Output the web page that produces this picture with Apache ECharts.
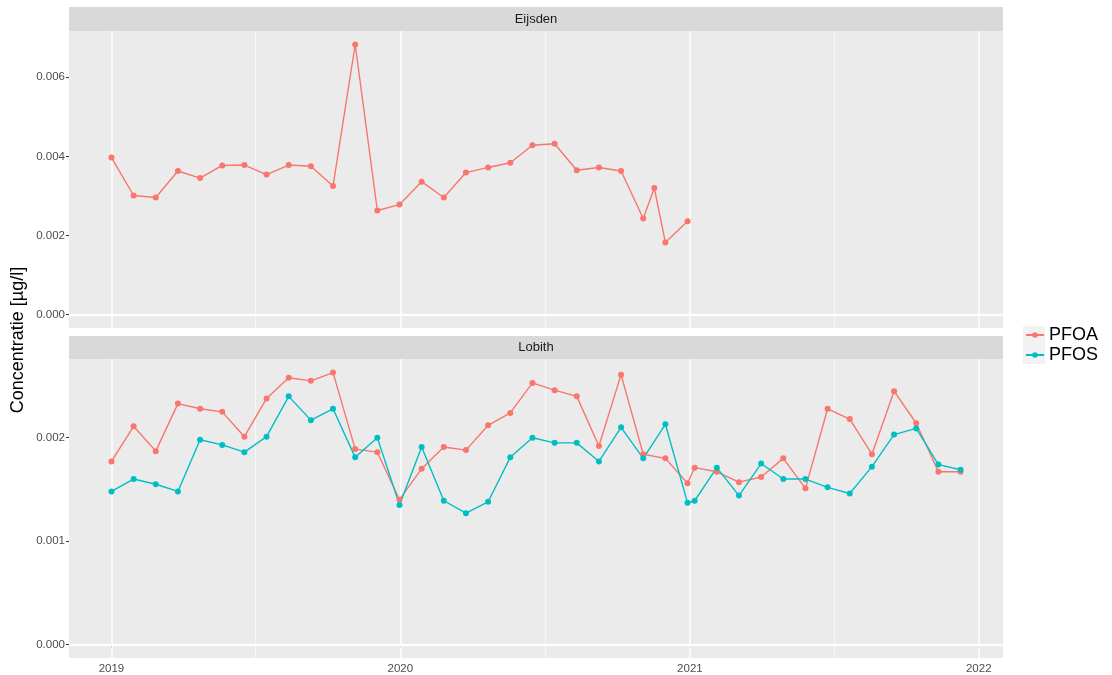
<!DOCTYPE html>
<html>
<head>
<meta charset="utf-8">
<script src="https://cdn.jsdelivr.net/npm/echarts@6/dist/echarts.min.js"></script>
<style>
html,body{margin:0;padding:0;background:#fff;}
#chart{width:1112px;height:675px;}
</style>
</head>
<body>
<div id="chart"></div>
<script>
// ---- Data (µg/l) ----
const eijsdenDates = ['2019-01-01','2019-01-29','2019-02-26','2019-03-26','2019-04-23','2019-05-21','2019-06-18','2019-07-16','2019-08-13','2019-09-10','2019-10-08','2019-11-05','2019-12-03','2019-12-31','2020-01-28','2020-02-25','2020-03-24','2020-04-21','2020-05-19','2020-06-16','2020-07-14','2020-08-11','2020-09-08','2020-10-06','2020-11-03','2020-11-17','2020-12-01','2020-12-29'];
const eijsdenPFOA = [0.00397,0.00301,0.00296,0.00363,0.00345,0.00377,0.00378,0.00354,0.00378,0.00375,0.00325,0.00683,0.00263,0.00278,0.00336,0.00296,0.00359,0.00372,0.00384,0.00428,0.00432,0.00365,0.00372,0.00363,0.00243,0.00320,0.00182,0.00236];

const lobithDates = ['2019-01-01','2019-01-29','2019-02-26','2019-03-26','2019-04-23','2019-05-21','2019-06-18','2019-07-16','2019-08-13','2019-09-10','2019-10-08','2019-11-05','2019-12-03','2019-12-31','2020-01-28','2020-02-25','2020-03-24','2020-04-21','2020-05-19','2020-06-16','2020-07-14','2020-08-11','2020-09-08','2020-10-06','2020-11-03','2020-12-01','2020-12-29','2021-01-07','2021-02-04','2021-03-04','2021-04-01','2021-04-29','2021-05-27','2021-06-24','2021-07-22','2021-08-19','2021-09-16','2021-10-14','2021-11-11','2021-12-09'];
const lobithPFOA = [0.00177,0.00211,0.00187,0.00233,0.00228,0.00225,0.00201,0.00238,0.00258,0.00255,0.00263,0.00189,0.00186,0.00140,0.00170,0.00191,0.00188,0.00212,0.00224,0.00253,0.00246,0.00240,0.00192,0.00261,0.00184,0.00180,0.00156,0.00171,0.00167,0.00157,0.00162,0.00180,0.00151,0.00228,0.00218,0.00184,0.00245,0.00214,0.00167,0.00167];
const lobithPFOS = [0.00148,0.00160,0.00155,0.00148,0.00198,0.00193,0.00186,0.00201,0.00240,0.00217,0.00228,0.00181,0.00200,0.00135,0.00191,0.00139,0.00127,0.00138,0.00181,0.00200,0.00195,0.00195,0.00177,0.00210,0.00180,0.00213,0.00137,0.00139,0.00171,0.00144,0.00175,0.00160,0.00160,0.00152,0.00146,0.00172,0.00203,0.00209,0.00174,0.00169];

const panelNames = ['Eijsden','Lobith'];
const seriesNames = ['PFOA','PFOS'];
const xTickLabels = ['2019','2020','2021','2022'];
const xMinorDates = ['2019-07-02','2020-07-02','2021-07-02'];
const yTicksTop = [0, 0.002, 0.004, 0.006];
const yMinorTop = [0.001, 0.003, 0.005, 0.007];
const yTicksBot = [0, 0.001, 0.002];
const yMinorBot = [0.0005, 0.0015, 0.0025];
const yTitle = 'Concentratie [µg/l]';

// ---- Helpers ----
const COL_A = '#F8766D', COL_S = '#00BFC4';
const ts = s => { const p = s.split('-').map(Number); return new Date(p[0], (p[1]||1)-1, p[2]||1).getTime(); };
const pairs = (d, v) => d.map((x, i) => [ts(x), v[i]]);
const allT = eijsdenDates.concat(lobithDates).map(ts);
const tMin = Math.min(...allT), tMax = Math.max(...allT), tSpan = tMax - tMin;
const xMin = tMin - 0.05 * tSpan, xMax = tMax + 0.05 * tSpan;
const yearTs = xTickLabels.map(y => ts(y));
function yRange(vals){ const m = Math.max(...vals); return [-0.05*m, 1.05*m]; }
const rTop = yRange(eijsdenPFOA.concat([0]));
const rBot = yRange(lobithPFOA.concat(lobithPFOS, [0]));

const G = [{left:69, top:31, width:934, height:297}, {left:69, top:359, width:934, height:299}];
const FONT = 'Liberation Sans, Arial, sans-serif';

function gridLines(yMajor, yMinor){
  const minor = {lineStyle:{color:'#F7F7F7', width:1.1, type:'solid'}};
  const major = {lineStyle:{color:'#FFFFFF', width:1.5, type:'solid'}};
  const d = [];
  yMinor.forEach(v => d.push(Object.assign({yAxis:v}, minor)));
  xMinorDates.forEach(v => d.push(Object.assign({xAxis:ts(v)}, minor)));
  yMajor.forEach(v => d.push(Object.assign({yAxis:v}, major)));
  yearTs.forEach(v => d.push(Object.assign({xAxis:v}, major)));
  return d;
}

function xAxisCfg(idx, labels){
  return {
    type:'value', gridIndex:idx, min:xMin, max:xMax, scale:true,
    axisLine:{show:false}, splitLine:{show:false},
    axisTick:{show:labels, length:3, lineStyle:{color:'#333'}, customValues: yearTs},
    axisLabel:{show:labels, color:'#4D4D4D', fontSize:11.5, fontFamily:FONT, margin:5,
      customValues: yearTs, formatter: v => String(new Date(v).getFullYear())}
  };
}
function yAxisCfg(idx, range, ticks){
  return {
    type:'value', gridIndex:idx, min:range[0], max:range[1],
    axisLine:{show:false}, splitLine:{show:false},
    axisTick:{show:true, length:3, lineStyle:{color:'#333'}, customValues: ticks},
    axisLabel:{color:'#4D4D4D', fontSize:11.5, fontFamily:FONT, margin:4,
      customValues: ticks, formatter: v => v.toFixed(3)}
  };
}
function lineSeries(name, color, xi, data){
  return {
    name, type:'line', xAxisIndex:xi, yAxisIndex:xi, data, z:3,
    symbol:'circle', symbolSize:6, showSymbol:true,
    lineStyle:{color, width:1.4}, itemStyle:{color}, emphasis:{disabled:true}, animation:false
  };
}
function gridSeries(xi, yMajor, yMinor){
  return {
    type:'line', xAxisIndex:xi, yAxisIndex:xi, data:[], z:1, silent:true, animation:false,
    markLine:{silent:true, z:1, symbol:['none','none'], label:{show:false}, animation:false, data: gridLines(yMajor, yMinor)}
  };
}

const chart = echarts.init(document.getElementById('chart'), null, {renderer:'canvas'});
chart.setOption({
  backgroundColor:'#FFFFFF',
  animation:false,
  grid: G.map(g => Object.assign({show:true, backgroundColor:'#EBEBEB', borderWidth:0}, g)),
  xAxis:[xAxisCfg(0,false), xAxisCfg(1,true)],
  yAxis:[yAxisCfg(0, rTop, yTicksTop), yAxisCfg(1, rBot, yTicksBot)],
  legend:{
    data: seriesNames, orient:'vertical', left:1025, top:326, padding:0,
    itemWidth:18, itemHeight:7, itemGap:2,
    textStyle:{fontSize:18, lineHeight:18, color:'#000', fontFamily:FONT},
    selectedMode:false
  },
  graphic:[
    {type:'rect', shape:{x:G[0].left, y:7, width:G[0].width, height:24}, style:{fill:'#D9D9D9'}, silent:true},
    {type:'rect', shape:{x:G[1].left, y:336, width:G[1].width, height:23}, style:{fill:'#D9D9D9'}, silent:true},
    {type:'text', x:G[0].left + G[0].width/2, y:19, style:{text:panelNames[0], fill:'#1A1A1A', font:'13px ' + FONT, textAlign:'center', textVerticalAlign:'middle'}, silent:true},
    {type:'text', x:G[1].left + G[1].width/2, y:347.5, style:{text:panelNames[1], fill:'#1A1A1A', font:'13px ' + FONT, textAlign:'center', textVerticalAlign:'middle'}, silent:true},
    {type:'text', x:18, y:340, rotation:Math.PI/2, style:{text:yTitle, fill:'#000', font:'18px ' + FONT, textAlign:'center', textVerticalAlign:'middle'}, silent:true},
    {type:'rect', z:-1, shape:{x:1023, y:326, width:22, height:38}, style:{fill:'#F2F2F2'}, silent:true}
  ],
  series:[
    gridSeries(0, yTicksTop, yMinorTop),
    gridSeries(1, yTicksBot, yMinorBot),
    lineSeries(seriesNames[0], COL_A, 0, pairs(eijsdenDates, eijsdenPFOA)),
    lineSeries(seriesNames[0], COL_A, 1, pairs(lobithDates, lobithPFOA)),
    lineSeries(seriesNames[1], COL_S, 1, pairs(lobithDates, lobithPFOS))
  ]
});
</script>
</body>
</html>
